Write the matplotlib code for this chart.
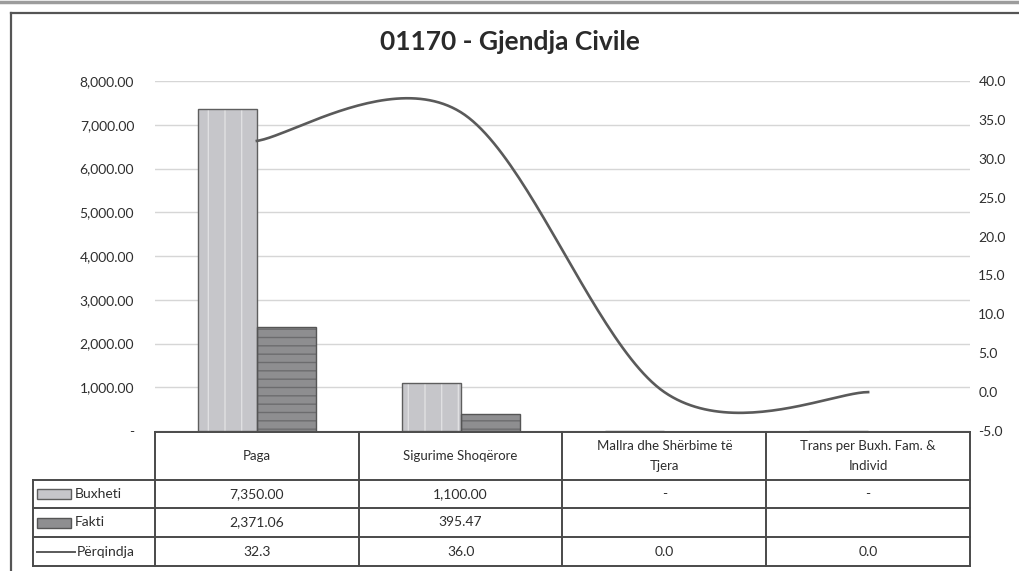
import numpy as np
import matplotlib.pyplot as plt
from matplotlib.patches import Rectangle
from matplotlib.lines import Line2D

# Të dhënat e programit 01170
kategorite = ['Paga', 'Sigurime Shoqërore', 'Mallra dhe Shërbime të\nTjera',
              'Trans per Buxh. Fam. &\nIndivid']
buxheti = [7350.00, 1100.00, 0.0, 0.0]
fakti = [2371.06, 395.47, np.nan, np.nan]
perqindja = [32.3, 36.0, 0.0, 0.0]
seri_emra = ['Buxheti', 'Fakti', 'Përqindja']

plt.rcParams['font.family'] = ['Lato', 'DejaVu Sans']
plt.rcParams['hatch.linewidth'] = 1.0

W, H = 1019, 571
fig = plt.figure(figsize=(W / 100, H / 100), dpi=100)

# boshtet kryesore (vlerat) dhe boshti i dytë (përqindja)
ax = fig.add_axes([155 / W, (H - 431) / H, 815 / W, 350 / H])
ax2 = ax.twinx()

x = np.arange(len(kategorite))
gjeresia = 0.29
ngjyra_bux = '#c6c6ca'
ngjyra_fak = '#8e8e90'
ngjyra_tekst = '#2e2e2e'

ax.bar(x - gjeresia / 2, buxheti, gjeresia, color=ngjyra_bux, edgecolor='#e0e0e2',
       hatch='|', linewidth=0, zorder=2)
ax.bar(x - gjeresia / 2, buxheti, gjeresia, fill=False, edgecolor='#5e5e5e',
       linewidth=1.0, zorder=3)
ax.bar(x + gjeresia / 2, fakti, gjeresia, color=ngjyra_fak, edgecolor='#6c6c6e',
       hatch='--', linewidth=0, zorder=2)
ax.bar(x + gjeresia / 2, fakti, gjeresia, fill=False, edgecolor='#555555',
       linewidth=1.0, zorder=3)

ax.set_xlim(-0.5, len(kategorite) - 0.5)
ax.set_ylim(0, 8000)
ax.set_yticks(np.arange(0, 8001, 1000))
ax.set_yticklabels(['-' if v == 0 else f'{v:,.2f}' for v in np.arange(0, 8001, 1000)])
ax.yaxis.grid(True, color='#d6d6d6', linewidth=1.0, zorder=0)
ax.set_axisbelow(True)
ax.set_xticks([])
ax.tick_params(axis='y', length=0, pad=15, labelsize=10, labelcolor=ngjyra_tekst)
for s in ax.spines.values():
    s.set_visible(False)

ax2.set_ylim(-5, 40)
ax2.set_yticks(np.arange(-5, 41, 5))
ax2.set_yticklabels([f'{v:.1f}' for v in np.arange(-5, 41, 5)])
ax2.tick_params(axis='y', length=0, pad=6, labelsize=10, labelcolor=ngjyra_tekst)
for s in ax2.spines.values():
    s.set_visible(False)

# vijë e lëmuar (Catmull-Rom në piksela, si në Excel)
pts = ax2.transData.transform(np.column_stack([x, perqindja]))
kurba = []
for i in range(len(pts) - 1):
    p0 = pts[max(i - 1, 0)]
    p1 = pts[i]
    p2 = pts[i + 1]
    p3 = pts[min(i + 2, len(pts) - 1)]
    c1 = p1 + (p2 - p0) / 6
    c2 = p2 - (p3 - p1) / 6
    t = np.linspace(0, 1, 50)[:, None]
    seg = (1 - t) ** 3 * p1 + 3 * (1 - t) ** 2 * t * c1 + 3 * (1 - t) * t ** 2 * c2 + t ** 3 * p2
    kurba.append(seg)
kurba = ax2.transData.inverted().transform(np.vstack(kurba))
ax2.plot(kurba[:, 0], kurba[:, 1], color='#5a5a5a', linewidth=1.9, zorder=4)
ax.set_zorder(1)
ax2.set_zorder(2)
ax2.patch.set_visible(False)

fig.text(0.5, 1 - 42 / H, '01170 - Gjendja Civile', ha='center', va='center',
         fontsize=19, fontweight='bold', color='#2a2a2a')

# tabela e të dhënave nën grafik
tab = fig.add_axes([0, 0, 1, 1], zorder=3)
tab.set_xlim(0, W)
tab.set_ylim(H, 0)
tab.axis('off')

kufij_x = [ax.transData.transform((v, 0))[0] for v in np.arange(-0.5, len(kategorite), 1.0)]
qendra_x = [ax.transData.transform((v, 0))[0] for v in x]
lk = '#4a4a4a'
y_koke, y_rreshta = 432, [480, 508, 537, 566]
x_etiketa = 33

tab.plot([kufij_x[0], kufij_x[-1]], [y_koke, y_koke], color=lk, lw=1.4)
for y in y_rreshta:
    tab.plot([x_etiketa, kufij_x[-1]], [y, y], color=lk, lw=1.4)
for xv in kufij_x:
    tab.plot([xv, xv], [y_koke, y_rreshta[-1]], color=lk, lw=1.4)
tab.plot([x_etiketa, x_etiketa], [y_rreshta[0], y_rreshta[-1]], color=lk, lw=1.4)

for cx, kat in zip(qendra_x, kategorite):
    tab.text(cx, (y_koke + y_rreshta[0]) / 2, kat, ha='center', va='center',
             fontsize=9.5, color=ngjyra_tekst, linespacing=1.75)

vlerat_tekst = [
    ['-' if v == 0 else f'{v:,.2f}' for v in buxheti],
    ['' if np.isnan(v) else f'{v:,.2f}' for v in fakti],
    [f'{v:.1f}' for v in perqindja],
]
for r in range(3):
    yc = (y_rreshta[r] + y_rreshta[r + 1]) / 2
    for cx, t in zip(qendra_x, vlerat_tekst[r]):
        tab.text(cx, yc, t, ha='center', va='center', fontsize=10,
                 color=ngjyra_tekst)
    tab.text(75 if r < 2 else 77, yc, seri_emra[r], ha='left', va='center',
             fontsize=10, color=ngjyra_tekst)

# çelësat e legjendës në kolonën e etiketave
yc0 = (y_rreshta[0] + y_rreshta[1]) / 2
yc1 = (y_rreshta[1] + y_rreshta[2]) / 2
yc2 = (y_rreshta[2] + y_rreshta[3]) / 2
tab.add_patch(Rectangle((37, yc0 - 5), 34, 10, facecolor=ngjyra_bux,
                        edgecolor='#5e5e5e', lw=1.0))
tab.add_patch(Rectangle((37, yc1 - 5), 34, 10, facecolor=ngjyra_fak,
                        edgecolor='#555555', lw=1.0))
tab.plot([37, 75], [yc2, yc2], color='#5a5a5a', lw=1.4)

# korniza e grafikut dhe vija e dokumentit sipër
fig.add_artist(Line2D([0, 1], [1 - 2 / H, 1 - 2 / H], color='#9c9c9c', lw=2.5))
fig.add_artist(Line2D([11 / W, 11 / W], [0, 1 - 13 / H], color='#555555', lw=1.6))
fig.add_artist(Line2D([11 / W, 1], [1 - 13 / H, 1 - 13 / H], color='#555555', lw=1.6))

fig.savefig('out.png', dpi=100)
